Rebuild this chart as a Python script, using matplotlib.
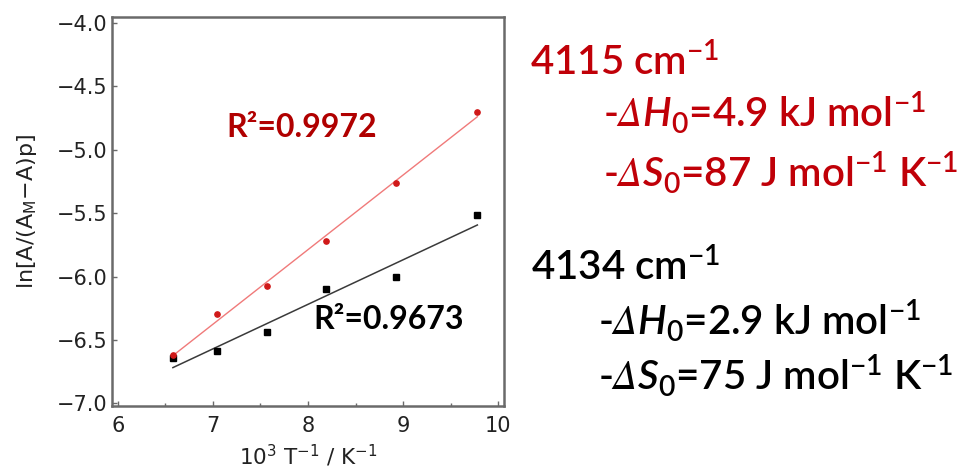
import numpy as np
import matplotlib
matplotlib.use("Agg")
import matplotlib.pyplot as plt
from matplotlib.ticker import MultipleLocator, FixedLocator, FuncFormatter

# --- data -------------------------------------------------------------
inv_T = [6.58, 7.045, 7.57, 8.19, 8.93, 9.78]          # 10^3 / T  (K^-1)
ln_4115 = [-6.62, -6.295, -6.077, -5.716, -5.261, -4.703]
ln_4134 = [-6.643, -6.585, -6.435, -6.098, -6.006, -5.513]

r2_labels = ["R²=0.9972", "R²=0.9673"]

info_4115 = [r"4115 cm$^{-1}$",
             r"-$\mathsf{\Delta}\mathit{H}_{0}$=4.9 kJ mol$^{-1}$",
             r"-$\mathsf{\Delta}\mathit{S}_{0}$=87 J mol$^{-1}$ K$^{-1}$"]
info_4134 = [r"4134 cm$^{-1}$",
             r"-$\mathsf{\Delta}\mathit{H}_{0}$=2.9 kJ mol$^{-1}$",
             r"-$\mathsf{\Delta}\mathit{S}_{0}$=75 J mol$^{-1}$ K$^{-1}$"]

x_ticks = [6, 7, 8, 9, 10]
y_ticks = [-4.0, -4.5, -5.0, -5.5, -6.0, -6.5, -7.0]

# --- style ------------------------------------------------------------
plt.rcParams["font.family"] = ["DejaVu Sans"]
plt.rcParams["xtick.labelsize"] = 15
plt.rcParams["ytick.labelsize"] = 15
plt.rcParams["mathtext.fontset"] = "custom"
plt.rcParams["mathtext.rm"] = "Lato:semibold"
plt.rcParams["mathtext.it"] = "Lato:italic:semibold"
plt.rcParams["mathtext.bf"] = "Lato:bold"
plt.rcParams["mathtext.sf"] = "STIXGeneral:italic"
plt.rcParams["mathtext.fallback"] = "stixsans"

RED_TXT = "#c00008"
RED_R2 = "#b00000"
SPINE = "#6a6a6a"
AX_TXT = "#222222"

W, H = 973, 474
fig = plt.figure(figsize=(W / 100, H / 100), dpi=100)
fig.patch.set_facecolor("white")

ax = fig.add_axes([112 / W, 1 - 406 / H, (504 - 112) / W, (406 - 17) / H])
ax.set_xlim(5.94, 10.06)
ax.set_ylim(-7.02, -3.955)

# fitted lines (least squares over the plotted points)
xs = np.array(inv_T)
for ys, col, lw in [(ln_4115, "#f07a7a", 1.0), (ln_4134, "#3a3a3a", 1.1)]:
    k, b = np.polyfit(xs, np.array(ys), 1)
    xx = np.array([xs.min(), xs.max()])
    ax.plot(xx, k * xx + b, color=col, lw=lw, zorder=2)

ax.plot(inv_T, ln_4134, "s", color="black", ms=4.0, mec="black", zorder=3)
ax.plot(inv_T, ln_4115, "o", color="#d01818", ms=3.8, mec="#d01818", zorder=4)

# R^2 annotations
ax.text(7.147, -4.903, r2_labels[0], color=RED_R2, fontsize=23,
        family="Lato", fontweight="bold", va="baseline", ha="left")
ax.text(8.053, -6.412, r2_labels[1], color="black", fontsize=23,
        family="Lato", fontweight="bold", va="baseline", ha="left")

# axes cosmetics
for s in ax.spines.values():
    s.set_color(SPINE)
    s.set_linewidth(1.8)

ax.xaxis.set_major_locator(FixedLocator(x_ticks))
ax.xaxis.set_minor_locator(MultipleLocator(0.5))
ax.yaxis.set_major_locator(FixedLocator(y_ticks))
ax.xaxis.set_major_formatter(FuncFormatter(lambda v, p: f"{v:.0f}"))
ax.yaxis.set_major_formatter(
    FuncFormatter(lambda v, p: f"{v:.1f}".replace("-", "\u2212")))

ax.tick_params(axis="both", which="both", direction="in", color=SPINE,
               labelcolor=AX_TXT, width=1.0)
ax.tick_params(axis="both", which="major", length=3.5)
ax.tick_params(axis="x", which="minor", length=2.5)
ax.tick_params(axis="x", which="both", top=False, pad=7)
ax.tick_params(axis="y", which="both", right=False, pad=3)

ax.set_xlabel(r"10$^{\mathregular{3}}$ T$^{\mathregular{-1}}$ / K$^{\mathregular{-1}}$",
              fontsize=15.5, color=AX_TXT, labelpad=5)
ax.set_ylabel(r"ln[A/(A$_{\mathregular{M}}$$\mathregular{-}$A)p]",
              fontsize=16, color=AX_TXT, labelpad=13)

# thermodynamic summary on the right
def block(lines, color, x_first, x_rest, baselines):
    for i, (txt, yb) in enumerate(zip(lines, baselines)):
        x = x_first if i == 0 else x_rest
        fig.text(x / W, 1 - yb / H, txt, color=color, fontsize=29,
                 family="Lato", fontweight="semibold", va="baseline", ha="left")

block(info_4115, RED_TXT, 530, 603, [75, 127, 187])
block(info_4134, "black", 531, 598, [280, 335, 390])

fig.savefig("out.png", dpi=100, facecolor="white")
